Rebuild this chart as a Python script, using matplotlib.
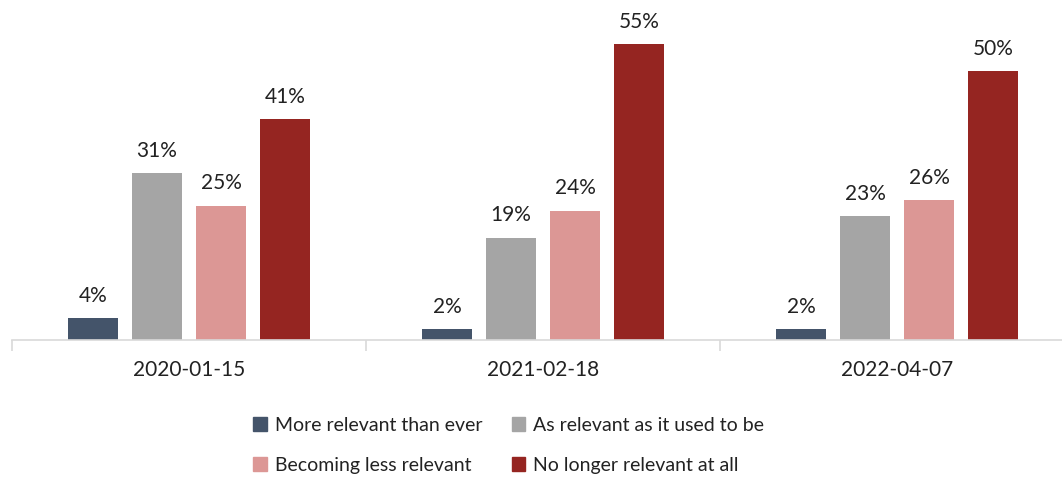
import numpy as np
import matplotlib.pyplot as plt
from matplotlib.patches import Patch

# survey waves and answer shares (%)
dates = ['2020-01-15', '2021-02-18', '2022-04-07']
series = ['More relevant than ever', 'As relevant as it used to be',
          'Becoming less relevant', 'No longer relevant at all']
more_relevant = [4, 2, 2]
as_relevant = [31, 19, 23]
less_relevant = [25, 24, 26]
not_relevant = [41, 55, 50]
colors = ['#44546a', '#a5a5a5', '#dc9795', '#952521']

plt.rcParams['font.family'] = ['Lato', 'DejaVu Sans']

fig = plt.figure(figsize=(10.62, 4.8), dpi=100)
ax = fig.add_axes([12 / 1062, 140 / 480, 1.0, 340 / 480])

x = np.arange(len(dates))
width = 50 / 354
step = 64 / 354
values = [more_relevant, as_relevant, less_relevant, not_relevant]
for i, (vals, c) in enumerate(zip(values, colors)):
    pos = x + (i - 1.5) * step
    bars = ax.bar(pos, vals, width=width, color=c, zorder=2)
    for b, v in zip(bars, vals):
        ax.annotate(f'{v}%', (b.get_x() + b.get_width() / 2, v),
                    xytext=(0, 9), textcoords='offset points',
                    ha='center', va='bottom', fontsize=15, color='#222222')

ax.set_xlim(-0.5, 2.5)
ax.set_ylim(0, 63.2)
for s in ['top', 'right', 'left']:
    ax.spines[s].set_visible(False)
ax.spines['bottom'].set_color('#d9d9d9')
ax.spines['bottom'].set_linewidth(1.2)
ax.set_yticks([])

# group separators as tick marks, labels centered under groups
ax.set_xticks([-0.5, 0.5, 1.5, 2.5])
ax.set_xticklabels([])
ax.tick_params(axis='x', length=8, width=1.2, color='#d9d9d9', direction='out')
for xi, d in zip(x, dates):
    ax.text(xi, -5.6, d, ha='center', va='center', fontsize=15, color='#222222')

order = [0, 2, 1, 3]
handles = [Patch(color=colors[i]) for i in order]
labels = [series[i] for i in order]
fig.legend(handles, labels, loc='center', bbox_to_anchor=(0.479, 0.072),
           ncol=2, frameon=False, fontsize=14, handlelength=0.7,
           handleheight=0.7, handletextpad=0.4, columnspacing=1.5,
           labelspacing=1.2, labelcolor='#222222')

fig.savefig('out.png', dpi=100)
